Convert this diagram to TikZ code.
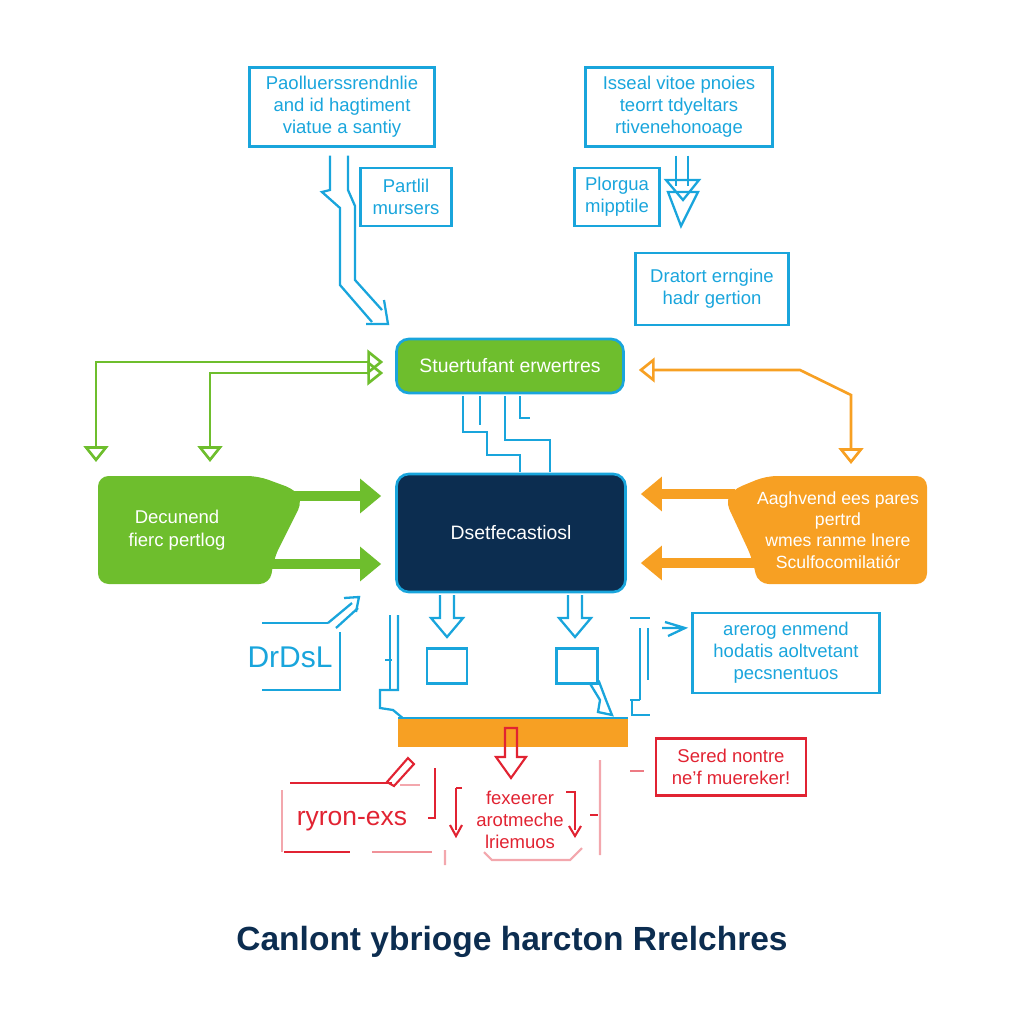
\documentclass[tikz,border=0pt]{standalone}
\usepackage{fontspec}
\setmainfont{Liberation Sans}
\usetikzlibrary{arrows.meta,calc}
\definecolor{cy}{RGB}{25,165,220}
\definecolor{gr}{RGB}{110,190,45}
\definecolor{orr}{RGB}{247,160,35}
\definecolor{nv}{RGB}{12,45,80}
\definecolor{rd}{RGB}{225,35,50}
\tikzset{
  sz/.style 2 args={minimum width=#1*0.567pt, minimum height=#2*0.567pt},
  cbox/.style={draw=cy, line width=1.4pt, text=cy, align=center, inner sep=0pt, font=\fontsize{10.5}{12.5}\selectfont},
  rbox/.style={draw=rd, line width=1.2pt, text=rd, align=center, inner sep=0pt, font=\fontsize{10.5}{12.5}\selectfont},
  cl/.style={cy, line width=1.3pt},
  gl/.style={gr, line width=1.5pt},
  ol/.style={orr, line width=1.5pt},
  rl/.style={rd, line width=1.2pt},
  ohead/.style={-{Triangle[open,length=9pt,width=13pt]}},
  bothhead/.style={{Triangle[open,length=9pt,width=14pt]}-{Triangle[open,length=9pt,width=14pt]}},
}
\begin{document}
\begin{tikzpicture}[x=0.567pt,y=-0.567pt]
\useasboundingbox (0,0) rectangle (1024,1024);

% top boxes
\node[cbox, sz={185}{79}] (tl) at (342,107) {Paolluerssrendnlie\\and id hagtiment\\viatue a santiy};
\node[cbox, sz={187}{79}] (tr) at (679,107) {Isseal vitoe pnoies\\teorrt tdyeltars\\rtivenehonoage};
\node[cbox, sz={91}{58}] (pm) at (406,197) {Partlil\\mursers};
\node[cbox, sz={85}{58}] (pg) at (617,197) {Plorgua\\mipptile};
\node[cbox, sz={153}{72}] (dr) at (712,289) {Dratort erngine\\hadr gertion};

% top-left hollow bent arrow
\draw[cl] ($(tl.south)+(-12,8)$) -- (330,190) -- (322,192) -- (340,208) -- (340,285) -- (372,322);
\draw[cl] ($(tl.south)+(6,8)$) -- (348,190) -- (355,206) -- (355,280) -- (382,310);
\draw[cl] (366,324) -- (388,324) -- (384,300);

% top-right hollow arrow
\draw[cl] ($(tr.south)+(-3,8)$) -- (676,186);
\draw[cl] ($(tr.south)+(9,8)$) -- (688,186);
\draw[cl] (666,180) -- (699,180) -- (683,200) -- cycle;
\draw[cl] (668,192) -- (698,192) -- (681,226) -- cycle;

% green top box
\node[draw=cy, line width=1.5pt, fill=gr, rounded corners=7pt, sz={227}{54}, text=white, font=\fontsize{11}{13}\selectfont] (gt) at (510,366) {Stuertufant erwertres};

% green connectors
\draw[gl, bothhead] ($(gt.west)+(-12,-4)$) -- (96,362) -- (96,462);
\draw[gl, bothhead] ($(gt.west)+(-12,7)$) -- (210,373) -- (210,462);
% orange connector
\draw[ol, bothhead] ($(gt.east)+(14,4)$) -- (800,370) -- (851,395) -- (851,464);

% navy box
\node[draw=cy, line width=1.5pt, fill=nv, rounded corners=7pt, sz={229}{118}, text=white, font=\fontsize{11}{13}\selectfont] (nv) at (511,533) {Dsetfecastiosl};

% stubs between green and navy
\draw[cl] (463,396) -- (463,432) -- (487,432) -- (487,455) -- (520,455) -- (520,472);
\draw[cl] (480,396) -- (480,425);
\draw[cl] (505,396) -- (505,440) -- (550,440) -- (550,472);
\draw[cl] (520,396) -- (520,418) -- (530,418);

% left green flag
\fill[gr, rounded corners=6pt] (98,476) -- (258,476) -- (296,490) -- (303,500) -- (274,558) -- (270,584) -- (98,584) -- cycle;
\node[text=white, align=center, font=\fontsize{10.5}{13}\selectfont] (lg) at (177,530) {Decunend\\fierc pertlog};
\draw[gr, line width=6pt, -{Triangle[length=12pt,width=19pt]}] (290,496) -- ($(nv.west)+(-14,-37)$);
\draw[gr, line width=6pt, -{Triangle[length=12pt,width=19pt]}] (272,564) -- ($(nv.west)+(-14,31)$);

% right orange flag
\fill[orr, rounded corners=6pt] (927,476) -- (766,476) -- (732,490) -- (725,500) -- (752,558) -- (758,584) -- (927,584) -- cycle;
\node[text=white, align=center, font=\fontsize{10}{12}\selectfont] (og) at (838,530) {Aaghvend ees pares\\pertrd\\wmes ranme lnere\\Sculfocomilatiór};
\draw[orr, line width=6pt, -{Triangle[length=12pt,width=19pt]}] (735,494) -- ($(nv.east)+(14,-39)$);
\draw[orr, line width=6pt, -{Triangle[length=12pt,width=19pt]}] (755,563) -- ($(nv.east)+(14,30)$);

% hollow arrows below navy
\foreach \xx in {447,575}{
  \draw[cl] (\xx-7,595) -- (\xx-7,618) -- (\xx-16,618) -- (\xx,637) -- (\xx+16,618) -- (\xx+7,618) -- (\xx+7,595);
}
\node[draw=cy, line width=1.3pt, sz={40}{35}] (b1) at (447,666) {};
\node[draw=cy, line width=1.3pt, sz={41}{35}] (b2) at (577,666) {};
\draw[cl] ($(b2.south east)+(-8,0)$) -- (600,700) -- (598,712) -- (612,715) -- (606,700) -- ($(b2.south east)+(0,-4)$);

% DrDsL
\node[text=cy, font=\fontsize{17}{19}\selectfont] (dd) at (290,657) {DrDsL};
\draw[cl] (262,623) -- (328,623);
\draw[cl] (340,632) -- (340,690) -- (262,690);
\draw[cl] (328,623) -- (352,603) (336,628) -- (358,608);
\draw[cl] (344,598) -- (359,597) -- (356,612);

% brackets near bottom
\draw[cl] (398,615) -- (398,690) -- (380,690) -- (380,708) -- (393,710) -- (405,720);
\draw[cl] (390,615) -- (390,690);
\draw[cl] (385,660) -- (392,660);
\draw[cl] (630,618) -- (650,618) (640,628) -- (640,700) (648,628) -- (648,680);
\draw[cl] (632,700) -- (632,715) -- (650,715) (640,700) -- (630,700);
\draw[cl] (665,622) -- (685,628) -- (668,636) (662,628) -- (682,628);

% right text box
\node[cbox, sz={187}{80}] (rb) at (786,653) {arerog enmend\\hodatis aoltvetant\\pecsnentuos};

% orange bar
\fill[orr] (398,718) rectangle (628,747);
\draw[cl] (398,718) -- (628,718);
\coordinate (bar) at (511,747);

% red arrow from bar
\draw[rl] (505,728) -- (505,757) -- (496,757) -- (511,778) -- (526,757) -- (517,757) -- (517,728) -- cycle;

% ryron box
\node[text=rd, font=\fontsize{15}{17}\selectfont] (ry) at (352,821) {ryron-exs};
\draw[rl] (290,783) -- (392,783);
\draw[rl, rd!40] (282,790) -- (282,852) (400,785) -- (420,785);
\draw[rl] (284,852) -- (350,852);
\draw[rl, rd!50] (372,852) -- (432,852);
\draw[rl] (435,768) -- (435,818) -- (428,818);
\draw[rl] (387,782) -- (408,758) -- (414,764) -- (394,786) -- cycle;

% fexeerer
\node[text=rd, align=center, font=\fontsize{10.5}{12.5}\selectfont] (fx) at (520,820) {fexeerer\\arotmeche\\lriemuos};
\draw[rl] (462,788) -- (456,788) (456,788) -- (456,830);
\draw[rl] (450,825) -- (456,836) -- (462,825);
\draw[rl] (566,792) -- (575,792) -- (575,830);
\draw[rl] (569,826) -- (575,836) -- (581,826);
\draw[rl, rd!40] (445,850) -- (445,865) (600,760) -- (600,855) (484,852) -- (492,860) -- (570,860) -- (582,848);
\draw[rl] (590,815) -- (598,815);

% Sered box
\node[rbox, sz={150}{57}] (sn) at (731,767) {Sered nontre\\ne'f muereker!};
\draw[rl, rd!60] (630,771) -- (644,771);

% title
\node[text=nv, font=\bfseries\fontsize{19}{22}\selectfont] (title) at (512,942) {Canlont ybrioge harcton Rrelchres};
\end{tikzpicture}
\end{document}
